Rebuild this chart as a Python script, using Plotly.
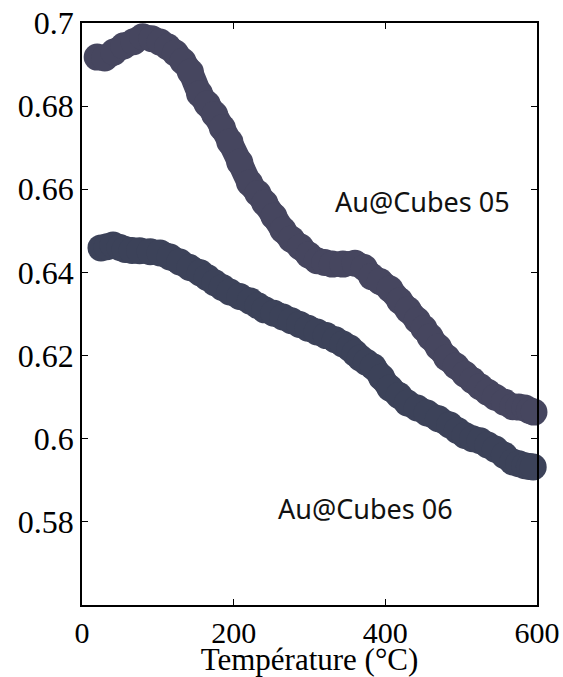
import plotly.graph_objects as go

# Au@Cubes 05 (upper curve)
x05 = [20, 30, 42, 55, 68, 80, 92, 103, 113, 123, 133, 143, 155, 165, 175, 185,
       195, 208, 221, 232, 241, 253, 265, 276, 288, 299, 310, 320, 330, 344, 360,
       372, 382, 393, 406, 419, 430, 442, 451, 459, 470, 481, 493, 505, 515, 525,
       535, 545, 557, 568, 576, 584, 590, 596]
y05 = [0.6918, 0.6916, 0.6930, 0.6945, 0.6955, 0.6967, 0.6962, 0.6954, 0.6943, 0.6928,
       0.6908, 0.6882, 0.6830, 0.6805, 0.6780, 0.6748, 0.6714, 0.6665, 0.6615, 0.6590,
       0.6567, 0.6535, 0.6502, 0.6480, 0.6461, 0.6442, 0.6428, 0.6424, 0.6420, 0.6420,
       0.6422, 0.6412, 0.6390, 0.6378, 0.6360, 0.6332, 0.6310, 0.6285, 0.6265, 0.6245,
       0.6220, 0.6195, 0.6175, 0.6155, 0.6140, 0.6125, 0.6112, 0.6100, 0.6088, 0.6077,
       0.6076, 0.6074, 0.6068, 0.6064]

# Au@Cubes 06 (lower curve)
x06 = [25, 33, 41, 50, 57, 66, 76, 90, 103, 116, 129, 142, 156, 165, 175, 185,
       195, 208, 222, 232, 241, 253, 265, 276, 287, 298, 310, 322, 334, 344, 353,
       360, 367, 375, 384, 395, 406, 418, 429, 442, 455, 470, 485, 495, 505, 515,
       525, 535, 545, 557, 568, 576, 584, 590, 595]
y06 = [0.6459, 0.6462, 0.6466, 0.6460, 0.6455, 0.6453, 0.6452, 0.6450, 0.6447, 0.6437,
       0.6425, 0.6412, 0.6399, 0.6388, 0.6375, 0.6364, 0.6353, 0.6342, 0.6331, 0.6320,
       0.6310, 0.6302, 0.6293, 0.6284, 0.6275, 0.6266, 0.6257, 0.6248, 0.6238, 0.6228,
       0.6218, 0.6206, 0.6194, 0.6184, 0.6173, 0.6148, 0.6122, 0.6104, 0.6086, 0.6074,
       0.6062, 0.6048, 0.6033, 0.6020, 0.6008, 0.6000, 0.5995, 0.5985, 0.5975, 0.5960,
       0.5944, 0.5940, 0.5935, 0.5933, 0.5932]

labels = ["Au@Cubes 05", "Au@Cubes 06"]
label_x = [449, 374]
label_y = [0.657, 0.5833]

x_ticks = [0, 200, 400, 600]
y_ticks = [0.58, 0.6, 0.62, 0.64, 0.66, 0.68, 0.7]
y_tick_text = ["0.58", "0.6", "0.62", "0.64", "0.66", "0.68", "0.7"]

colors = ["#46465f", "#3c4259"]

fig = go.Figure()
for xs, ys, name, col in [(x05, y05, labels[0], colors[0]), (x06, y06, labels[1], colors[1])]:
    fig.add_trace(go.Scatter(x=xs, y=ys, mode="lines+markers", name=name,
                             line=dict(color=col, width=25, shape="spline", smoothing=0.6),
                             marker=dict(size=27, color=col, line=dict(width=0)),
                             cliponaxis=False, hoverinfo="skip"))

for t, ax_, ay_ in zip(labels, label_x, label_y):
    fig.add_annotation(x=ax_, y=ay_, text=t, showarrow=False,
                       font=dict(family="Noto Sans", size=27, color="#111111"))

axis_common = dict(showgrid=False, zeroline=False, showline=True, linecolor="black",
                   linewidth=1.5, mirror="ticks", ticks="inside", ticklen=6,
                   tickcolor="black", tickwidth=1, ticklabeloverflow="allow",
                   automargin=False)

fig.update_xaxes(range=[0, 600], tickvals=x_ticks,
                 tickfont=dict(family="Liberation Serif", size=30, color="black"),
                 title=dict(text="Température (°C)", standoff=18,
                            font=dict(family="Liberation Serif", size=31, color="black")),
                 **axis_common)
fig.update_yaxes(range=[0.56, 0.7], tickvals=y_ticks, ticktext=y_tick_text,
                 tickfont=dict(family="Liberation Serif", size=32, color="black"),
                 **axis_common)

fig.update_layout(width=563, height=677, showlegend=False,
                  margin=dict(l=82, r=26, t=23, b=72),
                  plot_bgcolor="white", paper_bgcolor="white")

# remove the default 8px page margin so the figure fills the window exactly
fig.write_html("out.html", config={"displayModeBar": False},
               post_script="document.body.style.margin='0';document.body.style.overflow='hidden';")
